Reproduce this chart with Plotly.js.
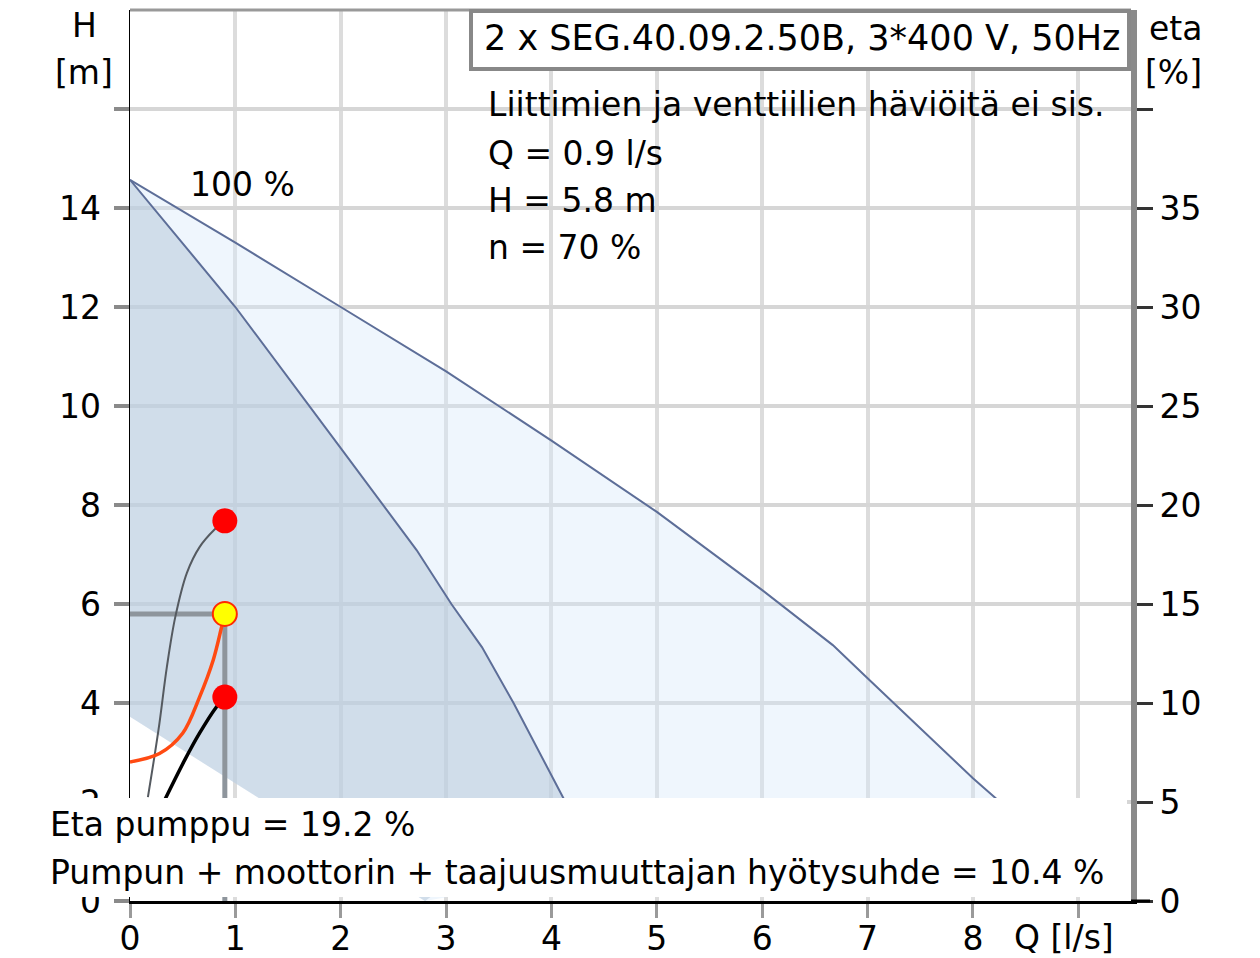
<!DOCTYPE html>
<html>
<head>
<meta charset="utf-8">
<script src="https://cdn.plot.ly/plotly-3.0.1.min.js"></script>
<style>html,body{margin:0;padding:0;background:#fff;}#chart{width:1260px;height:958px;}</style>
</head>
<body>
<div id="chart"></div>
<script>
// ---- data ----
const upperQ = [0, 1, 2, 3, 4, 5, 6, 6.67, 7, 7.5, 8, 8.23];
const upperH = [14.57, 13.3, 12.0, 10.7, 9.3, 7.86, 6.28, 5.17, 4.5, 3.5, 2.48, 2.05];
const lowerQ = [0, 1, 2, 2.72, 3.05, 3.34, 3.64, 4.12];
const lowerH = [14.57, 12.0, 9.15, 7.09, 6.0, 5.13, 4.0, 2.05];
const minQ = [0, 1.26, 2.8];
const minH = [3.72, 2.03, 0];
const systemQ = [0, 0.28, 0.5, 0.66, 0.79, 0.87, 0.9];
const systemH = [2.81, 2.98, 3.39, 4.12, 4.87, 5.54, 5.8];
const blackQ = [0.32, 0.52, 0.66, 0.82, 0.9];
const blackH = [2.0, 2.85, 3.39, 3.92, 4.12];
const grayQ = [0.17, 0.27, 0.35, 0.43, 0.54, 0.66, 0.8, 0.9];
const grayH = [2.1, 3.45, 4.73, 5.74, 6.63, 7.15, 7.5, 7.68];
const dutyQ = 0.9;
const dutyH = 5.8;
const redPointQ = [0.9, 0.9];
const redPointH = [7.68, 4.12];
const xTickVals = [0, 1, 2, 3, 4, 5, 6, 7, 8, 9];
const xTickText = ['0', '1', '2', '3', '4', '5', '6', '7', '8', ''];
const yTickVals = [0, 2, 4, 6, 8, 10, 12, 14, 16];
const yTickText = ['0', '2', '4', '6', '8', '10', '12', '14', ''];
const y2TickVals = [0, 5, 10, 15, 20, 25, 30, 35, 40];
const y2TickText = ['0', '5', '10', '15', '20', '25', '30', '35', ''];

// ---- geometry helpers (pixel -> paper) ----
const L = 130, R = 1131, T = 10, B = 901;
const px = x => (x - L) / (R - L);
const py = y => (B - y) / (B - T);
const FONT = 'DejaVu Sans';
const FS = 33;

const curveColor = '#5d6e98';

const traces = [
  {x: minQ, y: minH, mode: 'lines', line: {width: 0}, hoverinfo: 'skip', showlegend: false},
  {x: upperQ, y: upperH, mode: 'lines', fill: 'tonexty', fillcolor: 'rgba(216,233,249,0.40)',
   line: {color: curveColor, width: 2}, hoverinfo: 'skip', showlegend: false},
  {x: minQ, y: minH, mode: 'lines', line: {width: 0}, hoverinfo: 'skip', showlegend: false},
  {x: lowerQ, y: lowerH, mode: 'lines', fill: 'tonexty', fillcolor: 'rgba(180,197,216,0.52)',
   line: {color: curveColor, width: 2}, hoverinfo: 'skip', showlegend: false},
  {x: [0, dutyQ, dutyQ], y: [dutyH, dutyH, 0], mode: 'lines',
   line: {color: '#8e959c', width: 5}, hoverinfo: 'skip', showlegend: false},
  {x: grayQ, y: grayH, mode: 'lines', line: {color: '#555a60', width: 2, shape: 'spline'}, hoverinfo: 'skip', showlegend: false},
  {x: systemQ, y: systemH, mode: 'lines', line: {color: '#ff4a12', width: 3.5, shape: 'spline'}, hoverinfo: 'skip', showlegend: false},
  {x: blackQ, y: blackH, mode: 'lines', line: {color: '#000000', width: 3.5, shape: 'spline'}, hoverinfo: 'skip', showlegend: false},
  {x: redPointQ, y: redPointH, mode: 'markers', marker: {color: '#ff0000', size: 25, line: {width: 0}}, hoverinfo: 'skip', showlegend: false},
  {x: [dutyQ], y: [dutyH], mode: 'markers', marker: {color: '#ffff00', size: 24, line: {color: '#ff2a00', width: 2}}, hoverinfo: 'skip', showlegend: false}
];

function ann(text, x, y, xanchor, size) {
  return {text: text, xref: 'paper', yref: 'paper', x: px(x), y: py(y), xanchor: xanchor, yanchor: 'middle',
          showarrow: false, font: {family: FONT, size: size || FS, color: '#000'}};
}

const layout = {
  width: 1260, height: 958,
  margin: {l: L, r: 1260 - R, t: T, b: 958 - B, pad: 0},
  paper_bgcolor: '#ffffff', plot_bgcolor: '#ffffff',
  showlegend: false,
  font: {family: FONT, size: FS, color: '#000'},
  xaxis: {range: [0, 9.5], tickvals: xTickVals, ticktext: xTickText, showgrid: true,
          gridcolor: '#dcdcdc', gridwidth: 4, zeroline: false, showline: true, linecolor: '#000', linewidth: 3,
          ticks: '', ticklabelstandoff: 6,
          minor: {tickmode: 'array', tickvals: xTickVals, ticks: 'outside', ticklen: 14, tickwidth: 3, tickcolor: '#9a9a9a', showgrid: false},
          tickfont: {family: FONT, size: FS, color: '#000'}, fixedrange: true},
  yaxis: {range: [0, 18], tickvals: yTickVals, ticktext: yTickText, showgrid: true,
          gridcolor: '#d6d6d6', gridwidth: 4, zeroline: false, showline: true, linecolor: '#000', linewidth: 1.5,
          ticks: 'outside', ticklen: 15, tickwidth: 4, tickcolor: '#8a8a8a', ticklabelstandoff: 6,
          tickfont: {family: FONT, size: FS, color: '#000'}, fixedrange: true},
  yaxis2: {range: [0, 45], overlaying: 'y', side: 'right', tickvals: y2TickVals, ticktext: y2TickText,
           showgrid: false, zeroline: false, showline: true, linecolor: '#8a8a8a', linewidth: 6,
           ticks: 'outside', ticklen: 16, tickwidth: 3, tickcolor: '#333', ticklabelstandoff: 0,
           tickfont: {family: FONT, size: FS, color: '#000'}, fixedrange: true},
  shapes: [
    // white panel behind info text
    {type: 'rect', xref: 'paper', yref: 'paper', x0: px(483), x1: px(1128), y0: py(272), y1: py(82),
     fillcolor: '#ffffff', line: {width: 0}, layer: 'between'},
    // top border
    {type: 'line', xref: 'paper', yref: 'paper', x0: 0, x1: 1, y0: 1, y1: 1, line: {color: '#999999', width: 3}, layer: 'above'},
    // title box
    {type: 'rect', xref: 'paper', yref: 'paper', x0: px(471), x1: px(1129), y0: py(69), y1: py(11),
     fillcolor: '#ffffff', line: {color: '#888888', width: 4}, layer: 'above'},
    // bottom white box with efficiency texts
    {type: 'rect', xref: 'paper', yref: 'paper', x0: px(38), x1: px(1127), y0: py(897), y1: py(798),
     fillcolor: '#ffffff', line: {width: 0}, layer: 'above'},
    // x axis line extension past right axis
    {type: 'line', xref: 'paper', yref: 'paper', x0: 1, x1: px(1150), y0: 0, y1: 0, line: {color: '#000', width: 3}, layer: 'above'}
  ],
  annotations: [
    ann('2 x SEG.40.09.2.50B, 3*400 V, 50Hz', 802, 38, 'center', 35),
    ann('Liittimien ja venttiilien häviöitä ei sis.', 486, 105, 'left'),
    ann('Q = 0.9 l/s', 486, 153, 'left'),
    ann('H = 5.8 m', 486, 200, 'left'),
    ann('n = 70 %', 486, 247, 'left'),
    ann('100 %', 242, 184, 'center'),
    ann('H', 84, 25, 'center'),
    ann('[m]', 84, 72, 'center'),
    ann('eta', 1175, 28, 'center'),
    ann('[%]', 1173, 72, 'center'),
    ann('Eta pumppu = 19.2 %', 48, 824, 'left'),
    ann('Pumpun + moottorin + taajuusmuuttajan hyötysuhde = 10.4 %', 48, 872, 'left'),
    ann('Q [l/s]', 1064, 937, 'center')
  ]
};

// dummy trace to activate yaxis2
traces.push({x: [0], y: [0], yaxis: 'y2', mode: 'markers', marker: {opacity: 0}, hoverinfo: 'skip', showlegend: false});

Plotly.newPlot('chart', traces, layout, {staticPlot: true, displayModeBar: false});
</script>
</body>
</html>
